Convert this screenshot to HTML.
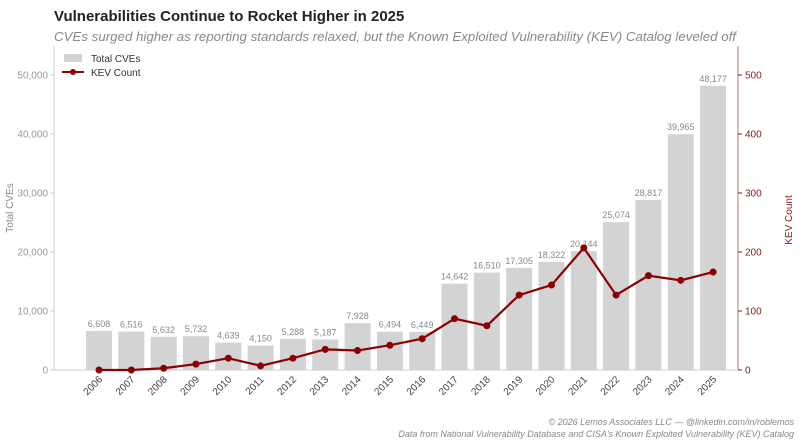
<!DOCTYPE html>
<html><head><meta charset="utf-8"><style>
body{margin:0;background:#fff;}
svg{display:block;font-family:"Liberation Sans",sans-serif;}
</style></head><body>
<svg width="800" height="445" viewBox="0 0 800 445" xmlns="http://www.w3.org/2000/svg">
<text x="54" y="21" font-size="15" font-weight="bold" fill="#222">Vulnerabilities Continue to Rocket Higher in 2025</text>
<text x="54" y="41" font-size="13.3" font-style="italic" fill="#888">CVEs surged higher as reporting standards relaxed, but the Known Exploited Vulnerability (KEV) Catalog leveled off</text>
<g id="bars" fill="#d3d3d3"></g>
<g id="labels" font-size="9" fill="#888" text-anchor="middle"></g>
<line x1="54" y1="46" x2="54" y2="370" stroke="#ccc"/>
<line x1="738" y1="46" x2="738" y2="370" stroke="#8b1a1a" stroke-opacity="0.6"/>
<line x1="54" y1="370" x2="738" y2="370" stroke="#ccc"/>
<g id="lt" font-size="10" fill="#999" text-anchor="end"></g>
<g id="rt" font-size="10" fill="#8b1a1a"></g>
<g id="xt" font-size="10" fill="#444"></g>
<polyline id="kev" fill="none" stroke="#8b0000" stroke-width="2.2"/>
<g id="dots" fill="#8b0000"></g>
<text transform="translate(13,208) rotate(-90)" font-size="10" fill="#888" text-anchor="middle">Total CVEs</text>
<text transform="translate(792,220) rotate(-90)" font-size="10" fill="#8b1a1a" text-anchor="middle">KEV Count</text>
<rect x="64" y="54" width="18" height="8" fill="#d3d3d3"/>
<text x="91" y="62" font-size="10" fill="#333">Total CVEs</text>
<line x1="62" y1="72" x2="84" y2="72" stroke="#8b0000" stroke-width="2"/>
<circle cx="73" cy="72" r="3" fill="#8b0000"/>
<text x="91" y="76" font-size="10" fill="#333">KEV Count</text>
<text x="794" y="425" font-size="9" font-style="italic" fill="#888" text-anchor="end">© 2026 Lemos Associates LLC — @linkedin.com/in/roblemos</text>
<text x="794" y="437" font-size="9" font-style="italic" fill="#888" text-anchor="end">Data from National Vulnerability Database and CISA's Known Exploited Vulnerability (KEV) Catalog</text>
</svg>
<script>
var ns="http://www.w3.org/2000/svg";
function el(p,t,a,txt){var e=document.createElementNS(ns,t);for(var k in a)e.setAttribute(k,a[k]);if(txt!=null)e.textContent=txt;document.getElementById(p).appendChild(e);}
var cve=[6608,6516,5632,5732,4639,4150,5288,5187,7928,6494,6449,14642,16510,17305,18322,20144,25074,28817,39965,48177];
var kev=[0,0,3,10,20,7,20,35,33,42,53,87,75,127,144,207,127,160,152,166];
var pts=[];
for(var i=0;i<20;i++){var cx=99+i*32.32;var h=cve[i]/10000*59;
el("bars","rect",{x:cx-13,y:370-h,width:26,height:h});
el("labels","text",{x:cx,y:370-h-4},cve[i].toLocaleString("en-US"));
var ky=370-kev[i]*0.59;pts.push(cx+","+ky);el("dots","circle",{cx:cx,cy:ky,r:3.5});
el("xt","text",{x:cx+4,y:380,"text-anchor":"end",transform:"rotate(-45 "+(cx+4)+" 380)"},String(2006+i));}
document.getElementById("kev").setAttribute("points",pts.join(" "));
for(var j=0;j<=5;j++){var y=370-j*59;
el("lt","text",{x:48,y:y+3.5},j==0?"0":(j*10)+",000");el("lt","line",{x1:50,y1:y,x2:54,y2:y,stroke:"#ccc"});
el("rt","text",{x:745,y:y+3.5},String(j*100));el("rt","line",{x1:738,y1:y,x2:742,y2:y,stroke:"#8b1a1a"});}
</script>
</body></html>
